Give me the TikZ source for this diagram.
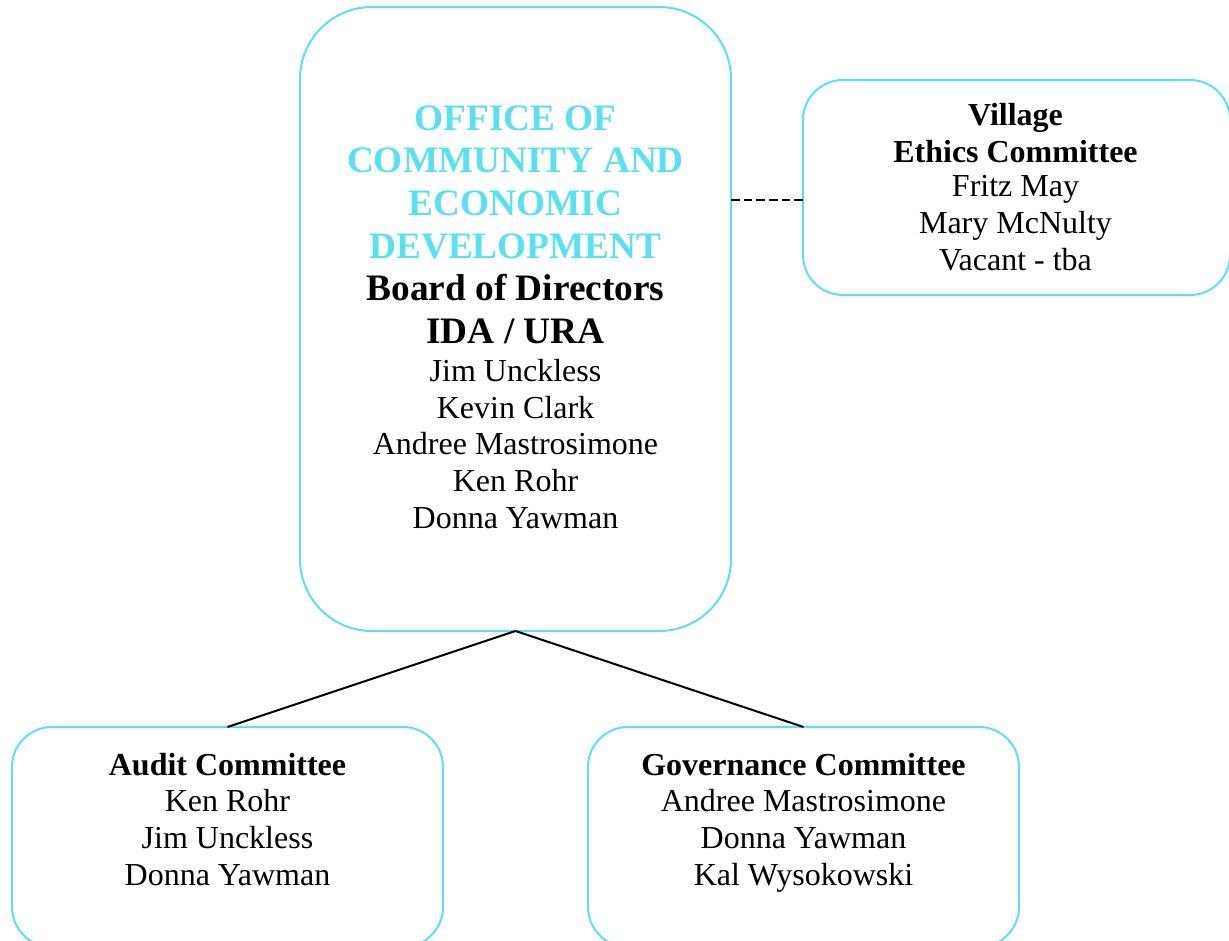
\documentclass[tikz,border=0pt]{standalone}
\usepackage{fontspec}
\setmainfont{Liberation Serif}
\definecolor{boxcyan}{RGB}{90,225,240}
\begin{document}
\begin{tikzpicture}[x=0.75pt,y=-0.75pt,
  box/.style={draw=boxcyan,line width=1.5pt,rounded corners=#1,fill=none,inner sep=0pt,outer sep=0pt},
  box/.default=30pt,
  txt/.style={align=center,inner sep=0pt,anchor=base},
  names/.style={txt,font=\fontsize{24}{27.5}\selectfont},
  bignames/.style={txt,font=\fontsize{24}{27.5}\selectfont\bfseries},
  title/.style={txt,font=\fontsize{28}{31.9}\selectfont\bfseries},
  conn/.style={line width=1.5pt,black}]
\useasboundingbox (0,0) rectangle (1229,940);
\clip (0,0) rectangle (1229,940);
% boxes
\node[box=54pt,minimum width=323.25pt,minimum height=468pt] (main) at (515.5,319) {};
\node[box,minimum width=320.25pt,minimum height=161.25pt] (vil) at (1016.5,187.5) {};
\node[box,minimum width=323.25pt,minimum height=165pt] (aud) at (227.5,837) {};
\node[box,minimum width=323.25pt,minimum height=165pt] (gov) at (803.5,837) {};
% texts (anchor = baseline of last line)
\node[title,text=boxcyan] (t1) at (515.5,258) {OFFICE OF\\COMMUNITY AND\\ECONOMIC\\DEVELOPMENT};
\node[title] (t2) at (515.5,343) {Board of Directors\\IDA / URA};
\node[names] (t3) at (515.5,528) {Jim Unckless\\Kevin Clark\\Andree Mastrosimone\\Ken Rohr\\Donna Yawman};
\node[bignames] (v1) at (1015.5,162) {Village\\Ethics Committee};
\node[names] (v2) at (1015.5,270) {Fritz May\\Mary McNulty\\Vacant - tba};
\node[bignames] (a1) at (227.5,775) {Audit Committee};
\node[names] (a2) at (227.5,885) {Ken Rohr\\Jim Unckless\\Donna Yawman};
\node[bignames] (g1) at (803.5,775) {Governance Committee};
\node[names] (g2) at (803.5,885) {Andree Mastrosimone\\Donna Yawman\\Kal Wysokowski};
% connectors
\coordinate (dy) at (0,200);
\draw[conn,dash pattern=on 6.5pt off 3pt] (main.east |- dy) -- (vil.west |- dy);
\draw[conn] (main.south) -- (aud.north);
\draw[conn] (main.south) -- (gov.north);
\end{tikzpicture}
\end{document}
